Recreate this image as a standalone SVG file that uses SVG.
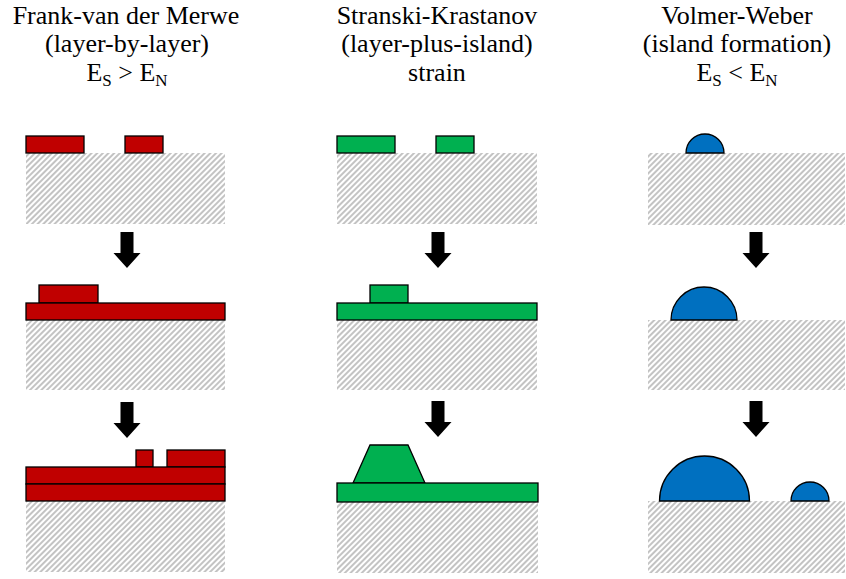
<svg xmlns="http://www.w3.org/2000/svg" width="846" height="579" viewBox="0 0 846 579">
<style>
.t{font-family:"Liberation Serif","Times New Roman",serif;font-size:26px;fill:#000;text-anchor:middle}
.sub{font-size:17px}
.sub2{fill:url(#hatch)}
.r{fill:#C00000;stroke:#000;stroke-width:1.3}
.g{fill:#00B050;stroke:#000;stroke-width:1.3}
.b{fill:#0070C0;stroke:#000;stroke-width:1.3}
.arr{fill:#000}
</style>
<defs>
<pattern id="hatch" patternUnits="userSpaceOnUse" width="4" height="4" patternTransform="rotate(45)">
<line x1="1" y1="0" x2="1" y2="4" stroke="#b4b4b4" stroke-width="1.6"/>
</pattern>
<path id="arrow" d="M-6.5 0 H6.5 V21 H13.5 L0 36 L-13.5 21 H-6.5 Z"/>
</defs>
<rect width="846" height="579" fill="#fff"/>

<g id="title1">
<text class="t" x="126" y="23.5">Frank-van der Merwe</text>
<text class="t" x="127" y="52">(layer-by-layer)</text>
<text class="t" x="127" y="81">E<tspan class="sub" dy="5">S</tspan><tspan dy="-5"> &gt; E</tspan><tspan class="sub" dy="5">N</tspan></text>
</g>
<g id="title2">
<text class="t" x="437" y="23.5">Stranski-Krastanov</text>
<text class="t" x="437" y="52">(layer-plus-island)</text>
<text class="t" x="437" y="81">strain</text>
</g>
<g id="title3">
<text class="t" x="737" y="23.5">Volmer-Weber</text>
<text class="t" x="737" y="52">(island formation)</text>
<text class="t" x="737" y="81">E<tspan class="sub" dy="5">S</tspan><tspan dy="-5"> &lt; E</tspan><tspan class="sub" dy="5">N</tspan></text>
</g>

<g id="fm1">
<rect class="sub2" x="26" y="153" width="199" height="71"/>
<rect class="r" x="26" y="136" width="58" height="17"/>
<rect class="r" x="125" y="136" width="38" height="17"/>
</g>
<g id="fm2">
<rect class="sub2" x="26" y="320" width="199" height="70"/>
<rect class="r" x="39" y="285" width="59" height="18"/>
<rect class="r" x="26" y="303" width="199" height="17"/>
</g>
<g id="fm3">
<rect class="sub2" x="26" y="501" width="199" height="71"/>
<rect class="r" x="136" y="450" width="17" height="17"/>
<rect class="r" x="167" y="450" width="58" height="17"/>
<rect class="r" x="26" y="467" width="199" height="17"/>
<rect class="r" x="26" y="484" width="199" height="17"/>
</g>

<g id="sk1">
<rect class="sub2" x="337" y="153" width="200" height="71"/>
<rect class="g" x="337" y="136" width="58" height="17"/>
<rect class="g" x="436" y="136" width="38" height="17"/>
</g>
<g id="sk2">
<rect class="sub2" x="337" y="320" width="200" height="70"/>
<rect class="g" x="370" y="285" width="38" height="18"/>
<rect class="g" x="337" y="303" width="200" height="17"/>
</g>
<g id="sk3">
<rect class="sub2" x="337" y="502" width="201" height="71"/>
<path class="g" d="M353 483 L370 445 H408 L425 483 Z"/>
<rect class="g" x="337" y="483" width="201" height="19"/>
</g>

<g id="vw1">
<rect class="sub2" x="648" y="153" width="197" height="72"/>
<path class="b" d="M686 153 A19 19 0 0 1 724 153 Z"/>
</g>
<g id="vw2">
<rect class="sub2" x="648" y="320" width="197" height="70"/>
<path class="b" d="M671 320 A33 33 0 0 1 737 320 Z"/>
</g>
<g id="vw3">
<rect class="sub2" x="648" y="501" width="197" height="72"/>
<path class="b" d="M659.5 501 A45 45 0 0 1 749.5 501 Z"/>
<path class="b" d="M791 501 A19 19 0 0 1 829 501 Z"/>
</g>

<g id="connectors" class="arr">
<use href="#arrow" x="127" y="232"/>
<use href="#arrow" x="127" y="402"/>
<use href="#arrow" x="438" y="232"/>
<use href="#arrow" x="438" y="401"/>
<use href="#arrow" x="756" y="232"/>
<use href="#arrow" x="756" y="401"/>
</g>
</svg>
